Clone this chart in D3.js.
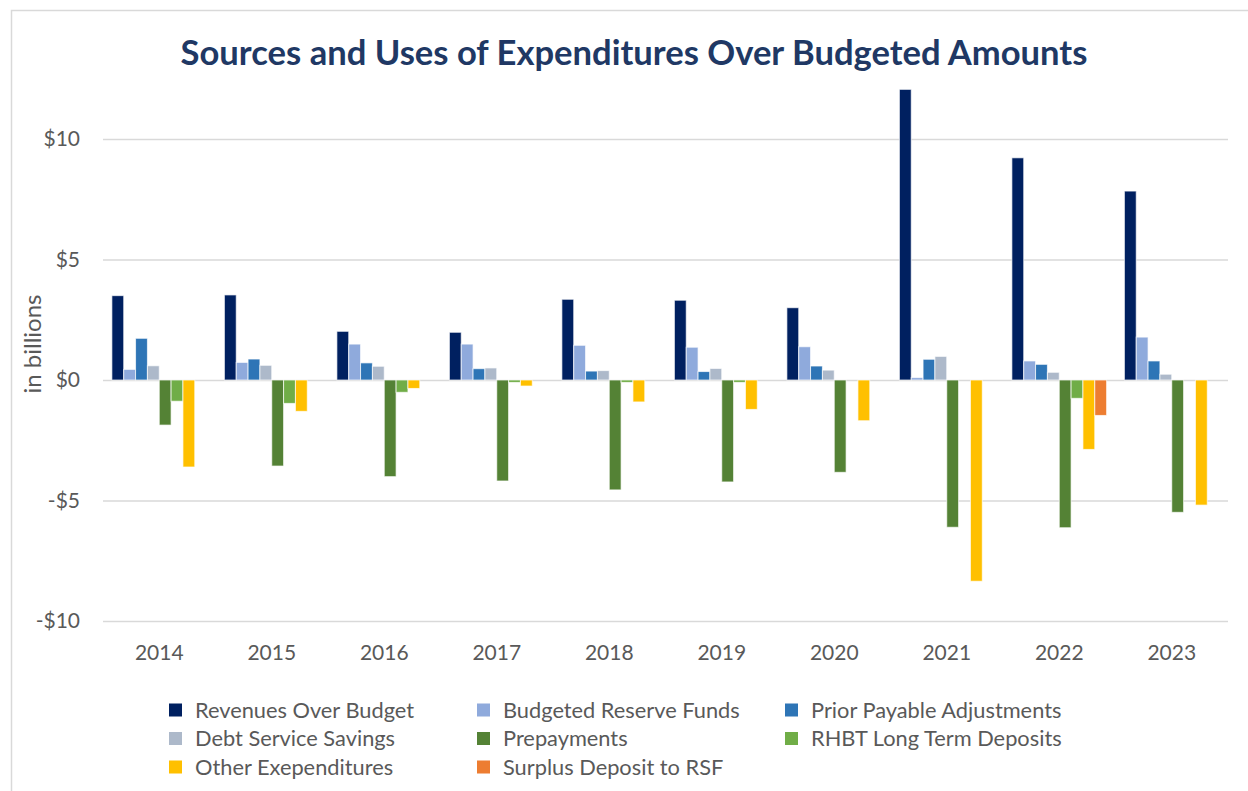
<!DOCTYPE html>
<html>
<head>
<meta charset="utf-8">
<script src="https://cdn.jsdelivr.net/npm/d3@7"></script>
<style>
  body { margin: 0; background: #fff; }
  svg { display: block; font-family: Lato, "Open Sans", sans-serif; }
</style>
</head>
<body>
<svg id="chart" width="1248" height="791"></svg>
<script>
var years = ["2014", "2015", "2016", "2017", "2018", "2019", "2020", "2021", "2022", "2023"]

// values in billions
var revenuesOverBudget = [3.50, 3.53, 2.02, 1.98, 3.35, 3.31, 3.00, 12.06, 9.22, 7.84]
var budgetedReserveFunds = [0.44, 0.73, 1.49, 1.49, 1.44, 1.36, 1.38, 0.10, 0.79, 1.78]
var priorPayableAdjustments = [1.73, 0.87, 0.71, 0.47, 0.37, 0.35, 0.58, 0.86, 0.65, 0.79]
var debtServiceSavings = [0.59, 0.61, 0.57, 0.50, 0.39, 0.48, 0.41, 0.98, 0.32, 0.24]
var prepayments = [-1.87, -3.57, -4.01, -4.19, -4.56, -4.23, -3.83, -6.11, -6.13, -5.49]
var rhbtLongTermDeposits = [-0.88, -0.97, -0.51, -0.10, -0.10, -0.10, 0, 0, -0.76, 0]
var otherExpenditures = [-3.61, -1.30, -0.35, -0.25, -0.91, -1.22, -1.69, -8.35, -2.88, -5.19]
var surplusDepositToRSF = [0, 0, 0, 0, 0, 0, 0, 0, -1.47, 0]

var seriesNames = ["Revenues Over Budget", "Budgeted Reserve Funds", "Prior Payable Adjustments",
    "Debt Service Savings", "Prepayments", "RHBT Long Term Deposits",
    "Other Exependitures", "Surplus Deposit to RSF"]
var seriesValues = [revenuesOverBudget, budgetedReserveFunds, priorPayableAdjustments,
    debtServiceSavings, prepayments, rhbtLongTermDeposits, otherExpenditures, surplusDepositToRSF]
var yTicks = [-10, -5, 0, 5, 10]

var colors = ["#002060", "#8FAADC", "#2E75B6", "#ADB9CA", "#548235", "#70AD47", "#FFC000", "#ED7D31"]

var svg = d3.select("#chart")
var left = 103, right = 1228

// chart border
svg.append("rect")
    .attr("x", 11.5).attr("y", 10.5)
    .attr("width", 1260).attr("height", 800)
    .attr("fill", "none")
    .attr("stroke", "#D9D9D9")
    .attr("stroke-width", 1.5)

var x0 = d3.scaleBand()
    .domain(years)
    .range([left, right])

var step = x0.bandwidth() / (seriesNames.length + 1.5)
var x1 = d3.scaleBand()
    .domain(seriesNames)
    .range([step * 0.75, x0.bandwidth() - step * 0.75])

var y = d3.scaleLinear()
    .domain([-10, 12.1])
    .range([621, 88.4])

var color = d3.scaleOrdinal()
    .domain(seriesNames)
    .range(colors)

// gridlines + y labels
var yAxis = d3.axisLeft(y)
    .tickValues(yTicks)
    .tickSize(-(right - left))
    .tickPadding(23)
    .tickFormat(function (d) { return d < 0 ? "-$" + Math.abs(d) : "$" + d })

var gy = svg.append("g")
    .attr("transform", "translate(" + left + ",0)")
    .call(yAxis)
gy.select(".domain").remove()
gy.selectAll("line").attr("stroke", "#D9D9D9").attr("stroke-width", 1.5)
gy.selectAll("text")
    .attr("fill", "#595959")
    .style("font-size", "21px")
    .style("font-family", "Lato, sans-serif")

// x labels
var xAxis = d3.axisBottom(x0).tickSize(0).tickPadding(0)
var gx = svg.append("g")
    .attr("transform", "translate(0,643)")
    .call(xAxis)
gx.select(".domain").remove()
gx.selectAll("text")
    .attr("fill", "#595959")
    .attr("dy", "0.32em")
    .style("font-size", "21px")
    .style("font-family", "Lato, sans-serif")
gx.selectAll("text").attr("y", 10)

// bars
var rows = []
seriesNames.forEach(function (s, i) {
    years.forEach(function (yr, j) {
        rows.push({ series: s, year: yr, value: seriesValues[i][j] })
    })
})

svg.append("g")
    .selectAll("rect")
    .data(rows.filter(function (d) { return d.value !== 0 }))
    .enter()
    .append("rect")
    .attr("x", function (d) { return x0(d.year) + x1(d.series) })
    .attr("width", x1.bandwidth())
    .attr("y", function (d) { return y(Math.max(0, d.value)) })
    .attr("height", function (d) { return Math.abs(y(d.value) - y(0)) })
    .attr("fill", function (d) { return color(d.series) })
    .attr("stroke", "rgba(255,255,255,0.7)")
    .attr("stroke-width", 1)

// title
var title = svg.append("text")
    .attr("x", 634)
    .attr("y", 65)
    .attr("text-anchor", "middle")
    .attr("fill", "#203864")
    .style("font-family", "Lato, sans-serif")
    .style("font-weight", "bold")
    .style("font-size", "32px")
    .text("Sources and Uses of Expenditures Over Budgeted Amounts")
var tw = title.node().getComputedTextLength()
title.style("font-size", (32 * 907 / tw) + "px")

// y axis title
svg.append("text")
    .attr("transform", "translate(41,344) rotate(-90)")
    .attr("text-anchor", "middle")
    .attr("fill", "#595959")
    .style("font-size", "24px")
    .text("in billions")

// legend
var legendX = [169, 477, 785]
var legendY = [710, 738.5, 767]
var legend = svg.append("g")
    .selectAll("g")
    .data(seriesNames)
    .enter()
    .append("g")
    .attr("transform", function (d, i) {
        return "translate(" + legendX[i % 3] + "," + legendY[Math.floor(i / 3)] + ")"
    })
legend.append("rect")
    .attr("x", 0).attr("y", -6.5)
    .attr("width", 13).attr("height", 13)
    .attr("fill", function (d) { return color(d) })
legend.append("text")
    .attr("x", 26)
    .attr("dy", "0.35em")
    .attr("fill", "#595959")
    .style("font-size", "21.8px")
    .text(function (d) { return d })
</script>
</body>
</html>
